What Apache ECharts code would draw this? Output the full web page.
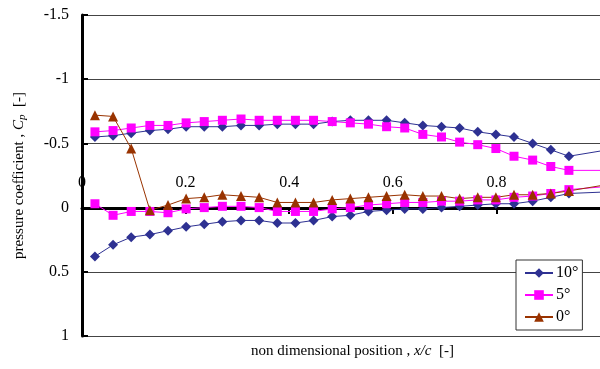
<!DOCTYPE html>
<html>
<head>
    <meta charset="UTF-8">
    <title>Pressure coefficient</title>
    <script src="https://cdn.jsdelivr.net/npm/echarts@6/dist/echarts.min.js"></script>
    <style>
        body { margin: 0; padding: 0; background: #fff; }
        #chart { width: 600px; height: 369px; }
    </style>
</head>
<body>
    <div id="chart"></div>
    <script>
        // tap positions x/c (same for every curve) and trailing edge
        var xPos = [0.025, 0.060, 0.095, 0.131, 0.166, 0.201, 0.236, 0.271, 0.307, 0.342,
                    0.377, 0.412, 0.447, 0.483, 0.518, 0.553, 0.588, 0.623, 0.658, 0.694,
                    0.729, 0.764, 0.799, 0.834, 0.870, 0.905, 0.940];
        var xTE = 1.0;

        // 10 deg
        var upper10 = [-0.55, -0.56, -0.58, -0.60, -0.61, -0.63, -0.63, -0.63, -0.64, -0.64,
                       -0.65, -0.65, -0.65, -0.67, -0.68, -0.68, -0.68, -0.66, -0.64, -0.63,
                       -0.62, -0.59, -0.57, -0.55, -0.50, -0.45, -0.40];
        var lower10 = [0.38, 0.29, 0.23, 0.21, 0.18, 0.15, 0.13, 0.11, 0.10, 0.10,
                       0.12, 0.12, 0.10, 0.07, 0.06, 0.03, 0.02, 0.01, 0.01, 0.00,
                       -0.01, -0.02, -0.03, -0.03, -0.05, -0.08, -0.11];
        var te10 = [-0.44, -0.12];

        // 5 deg
        var upper5 = [-0.59, -0.60, -0.62, -0.64, -0.64, -0.66, -0.67, -0.68, -0.69, -0.68,
                      -0.68, -0.68, -0.68, -0.67, -0.66, -0.65, -0.63, -0.62, -0.57, -0.55,
                      -0.51, -0.49, -0.46, -0.40, -0.37, -0.32, -0.29];
        var lower5 = [-0.03, 0.06, 0.03, 0.03, 0.04, 0.01, 0.00, -0.01, -0.01, 0.00,
                      0.03, 0.03, 0.03, 0.01, 0.00, -0.02, -0.03, -0.04, -0.04, -0.05,
                      -0.05, -0.06, -0.06, -0.08, -0.09, -0.11, -0.14];
        var te5 = [-0.29, -0.16];

        // 0 deg
        var surf0 = [-0.72, -0.71, -0.46, 0.02, -0.02, -0.07, -0.08, -0.10, -0.09, -0.08,
                     -0.04, -0.04, -0.04, -0.06, -0.07, -0.08, -0.09, -0.10, -0.09, -0.09,
                     -0.07, -0.08, -0.08, -0.10, -0.10, -0.11, -0.13];
        var te0 = -0.17;

        var yTicks = [-1.5, -1, -0.5, 0, 0.5, 1];
        var legendNames = ['10°', '5°', '0°'];

        var font = 'Liberation Serif';

        function pts(vals, teVal) {
            var d = vals.map(function (v, i) { return [xPos[i], v]; });
            d.push({ value: [xTE, teVal], symbol: 'none' });
            return d;
        }

        function line(name, data, color, symbol, size) {
            return {
                name: name,
                type: 'line',
                data: data,
                symbol: symbol,
                symbolSize: size,
                showSymbol: true,
                animation: false,
                lineStyle: { color: color, width: 1 },
                itemStyle: { color: color, borderWidth: 0 }
            };
        }

        var chart = echarts.init(document.getElementById('chart'));
        var option = {
            animation: false,
            textStyle: { fontFamily: font },
            title: {
                text: '{n|non dimensional position , }{i|x/c}{n|  [-]}',
                left: 251,
                top: 344,
                padding: 0,
                textStyle: {
                    fontWeight: 'normal',
                    rich: {
                        n: { fontFamily: font, fontSize: 15, fontWeight: 'normal', color: '#000' },
                        i: { fontFamily: font, fontSize: 15, fontWeight: 'normal', fontStyle: 'italic', color: '#000' }
                    }
                }
            },
            legend: {
                data: legendNames,
                orient: 'vertical',
                left: 516,
                top: 260,
                padding: [5, 4, 5, 8],
                itemWidth: 28,
                itemHeight: 12,
                itemGap: 6,
                backgroundColor: '#fff',
                borderColor: '#333',
                borderWidth: 1,
                borderRadius: 0,
                textStyle: { fontFamily: font, fontSize: 16, color: '#000', padding: [0, 0, 0, -2] }
            },
            grid: {
                left: 82,
                top: 15,
                width: 520,
                bottom: 33
            },
            xAxis: {
                type: 'value',
                min: 0,
                max: 1,
                interval: 0.2,
                // axis drawn at Cp = 0 (shifted up from the grid bottom)
                offset: -128,
                axisLine: { onZero: false, lineStyle: { color: '#000', width: 3 } },
                axisTick: { show: true, inside: false, length: 6, lineStyle: { color: '#000', width: 2 } },
                axisLabel: {
                    inside: true,
                    margin: 17,
                    fontFamily: font,
                    fontSize: 16,
                    color: '#000',
                    showMaxLabel: false
                },
                splitLine: { show: false }
            },
            yAxis: {
                type: 'value',
                inverse: true,
                min: yTicks[0],
                max: yTicks[yTicks.length - 1],
                interval: 0.5,
                name: '{n|pressure coefficient , }{i|C}{s|p}{n|  [-]}',
                nameLocation: 'middle',
                nameGap: 54,
                nameTextStyle: {
                    rich: {
                        n: { fontFamily: font, fontSize: 15, color: '#000' },
                        i: { fontFamily: font, fontSize: 15, fontStyle: 'italic', color: '#000' },
                        s: { fontFamily: font, fontSize: 11, fontStyle: 'italic', color: '#000', verticalAlign: 'bottom', padding: [6, 0, 0, 0] }
                    }
                },
                axisLine: { show: true, onZero: false, lineStyle: { color: '#000', width: 3 } },
                axisTick: { show: true, inside: true, length: 6, lineStyle: { color: '#000', width: 2 } },
                axisLabel: { margin: 13, fontFamily: font, fontSize: 16, color: '#000' },
                splitLine: { show: true, lineStyle: { color: '#444', width: 1 } }
            },
            series: [
                line('10°', pts(upper10, te10[0]), '#2e3192', 'diamond', 10),
                line('10°', pts(lower10, te10[1]), '#2e3192', 'diamond', 10),
                line('5°', pts(upper5, te5[0]), '#ff00ff', 'rect', 9),
                line('5°', pts(lower5, te5[1]), '#ff00ff', 'rect', 9),
                line('0°', pts(surf0, te0), '#993300', 'triangle', 10)
            ]
        };
        chart.setOption(option);
    </script>
</body>
</html>
